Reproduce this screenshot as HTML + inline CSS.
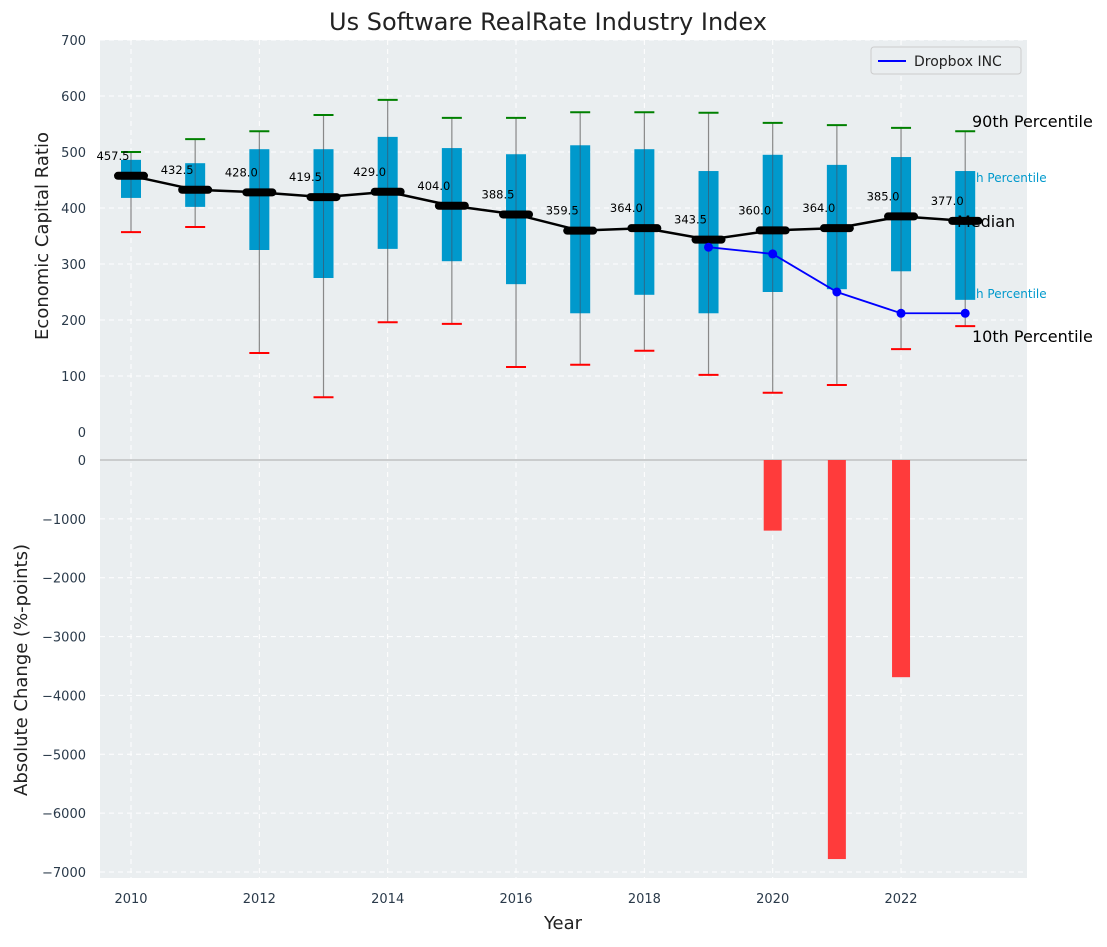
<!DOCTYPE html>
<html><head><meta charset="utf-8"><style>
body{margin:0;background:#fff;font-family:"Liberation Sans","DejaVu Sans",sans-serif}
text{font-family:"DejaVu Sans","Liberation Sans",sans-serif}
</style></head><body>
<svg id="chart" width="1107" height="942" xmlns="http://www.w3.org/2000/svg">
<rect x="100" y="40" width="927" height="838" fill="#eaeef0"/>
<g id="grid"></g><g id="marks"></g><g id="labels"></g>
<text x="548" y="30" font-size="24" text-anchor="middle" fill="#222">Us Software RealRate Industry Index</text>
<text x="563" y="929" font-size="18" text-anchor="middle" fill="#222">Year</text>
<text transform="translate(48,236) rotate(-90)" font-size="18" text-anchor="middle" fill="#222">Economic Capital Ratio</text>
<text transform="translate(27,670) rotate(-90)" font-size="18" text-anchor="middle" fill="#222">Absolute Change (%-points)</text>
<g>
<rect x="871" y="47" width="150" height="27" fill="#eaeef0" stroke="#ccc" rx="3"/>
<line x1="878" y1="61" x2="906" y2="61" stroke="#0000ff" stroke-width="2"/>
<text x="914" y="66" font-size="14" fill="#222">Dropbox INC</text>
</g>
<text x="972" y="127" font-size="16" fill="#000">90th Percentile</text>
<text x="976" y="182" font-size="12" fill="#0099cc">h Percentile</text>
<text x="957" y="227" font-size="16" fill="#000">Median</text>
<text x="976" y="298" font-size="12" fill="#0099cc">h Percentile</text>
<text x="972" y="342" font-size="16" fill="#000">10th Percentile</text>
</svg>
<script>
const years=[2010,2011,2012,2013,2014,2015,2016,2017,2018,2019,2020,2021,2022,2023];
const p90=[500,523,537,566,593,561,561,571,571,570,552,548,543,537];
const q75=[486,480,505,505,527,507,496,512,505,466,495,477,491,466];
const medians=[457.5,432.5,428.0,419.5,429.0,404.0,388.5,359.5,364.0,343.5,360.0,364.0,385.0,377.0];
const q25=[418,402,325,275,327,305,264,212,245,212,250,255,287,236];
const p10=[357,366,141,62,196,193,116,120,145,102,70,84,148,189];
const dropboxYears=[2019,2020,2021,2022,2023];
const dropboxValues=[330,318,250,212,212];
const changeYears=[2020,2021,2022];
const changeValues=[-1200,-6780,-3690];
const topTicks=[0,100,200,300,400,500,600,700];
const bottomTicks=[0,-1000,-2000,-3000,-4000,-5000,-6000,-7000];
const xTicks=[2010,2012,2014,2016,2018,2020,2022];

const NS='http://www.w3.org/2000/svg';
const X=y=>131+(y-2010)*64.17;
const YT=v=>432-v*0.56;
const YB=v=>460-v*(412/7000);
function mk(p,tag,a){const e=document.createElementNS(NS,tag);for(const k in a)e.setAttribute(k,a[k]);p.appendChild(e);return e;}
const grid=document.getElementById('grid'),marks=document.getElementById('marks'),labels=document.getElementById('labels');
xTicks.forEach(t=>{
  const l=mk(grid,'line',{x1:X(t),x2:X(t),y1:40,y2:878,stroke:'#fff','stroke-dasharray':'5,4'});
  
  const tx=mk(labels,'text',{x:X(t),y:903,'font-size':13,'text-anchor':'middle',fill:'#2a3a4a'});tx.textContent=t;
  
});
topTicks.forEach(t=>{
  if(t>0){const l=mk(grid,'line',{x1:100,x2:1027,y1:YT(t),y2:YT(t),stroke:'#fff','stroke-dasharray':'5,4'});
  }
  const tx=mk(labels,'text',{x:86,y:YT(t)+5,'font-size':13,'text-anchor':'end',fill:'#2a3a4a'});tx.textContent=t;
  
});
bottomTicks.forEach(t=>{
  if(t<0){const l=mk(grid,'line',{x1:100,x2:1027,y1:YB(t),y2:YB(t),stroke:'#fff','stroke-dasharray':'5,4'});
  }
  const tx=mk(labels,'text',{x:86,y:YB(t)+5,'font-size':13,'text-anchor':'end',fill:'#2a3a4a'});tx.textContent=t===0?'0':'\u2212'+Math.abs(t);
  
});
const zl=mk(grid,'line',{x1:100,x2:1027,y1:YB(0),y2:YB(0),stroke:'#aaa','stroke-width':1});

changeYears.forEach((y,i)=>{
  const v=changeValues[i];
  const r=mk(marks,'rect',{x:X(y)-9,y:YB(0),width:18,height:YB(v)-YB(0),fill:'#ff3b3b'});
  
});
years.forEach((y,i)=>{
  const x=X(y);
  const w=mk(marks,'line',{x1:x,x2:x,y1:YT(p90[i]),y2:YT(p10[i]),stroke:'#888','stroke-width':1.2});
  
  const b=mk(marks,'rect',{x:x-10,y:YT(q75[i]),width:20,height:YT(q25[i])-YT(q75[i]),fill:'#0099cc'});
  
  const w2=mk(marks,'line',{x1:x,x2:x,y1:YT(q75[i]),y2:YT(q25[i]),stroke:'#2a6a8a','stroke-width':1});
  
  const h=mk(marks,'line',{x1:x-10,x2:x+10,y1:YT(p90[i]),y2:YT(p90[i]),stroke:'green','stroke-width':2});
  
  const lo=mk(marks,'line',{x1:x-10,x2:x+10,y1:YT(p10[i]),y2:YT(p10[i]),stroke:'red','stroke-width':2});
  
});
const mp=mk(marks,'polyline',{points:years.map((y,i)=>X(y)+','+YT(medians[i])).join(' '),fill:'none',stroke:'#000','stroke-width':2.5});

years.forEach((y,i)=>{
  const m=mk(marks,'line',{x1:X(y)-13,x2:X(y)+13,y1:YT(medians[i]),y2:YT(medians[i]),stroke:'#000','stroke-width':8,'stroke-linecap':'round'});
  
  const t=mk(labels,'text',{x:X(y)-18,y:YT(medians[i])-16,'font-size':11.5,'text-anchor':'middle',fill:'#000'});
  t.textContent=medians[i].toFixed(1);
  
});
const dp=mk(marks,'polyline',{points:dropboxYears.map((y,i)=>X(y)+','+YT(dropboxValues[i])).join(' '),fill:'none',stroke:'#0000ff','stroke-width':1.8});

dropboxYears.forEach((y,i)=>{
  const c=mk(marks,'circle',{cx:X(y),cy:YT(dropboxValues[i]),r:4.5,fill:'#0000ff'});
  
});
</script>
</body></html>
